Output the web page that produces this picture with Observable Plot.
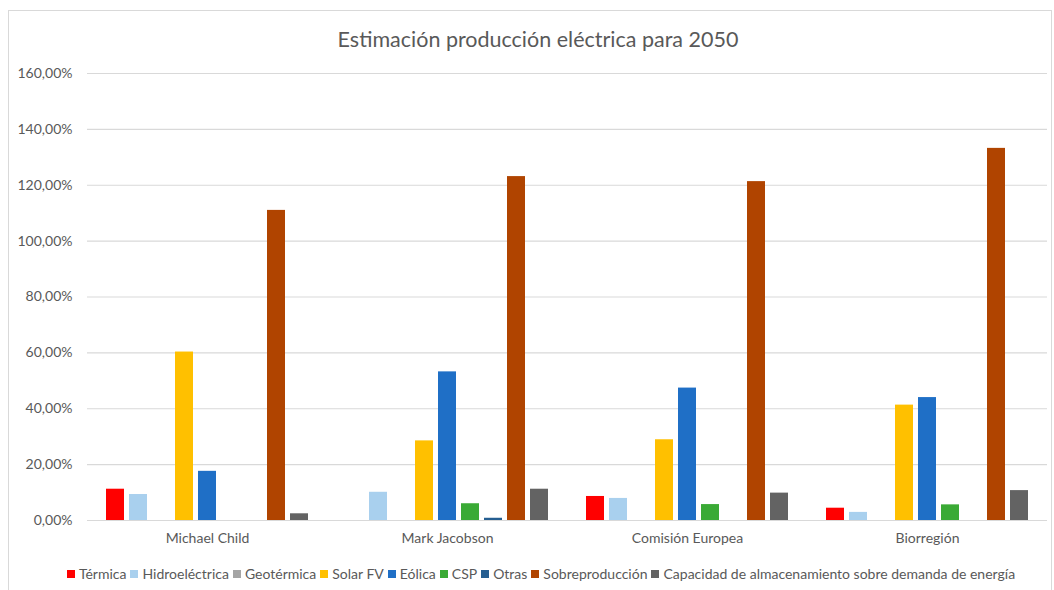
<!DOCTYPE html>
<html>
<head>
<meta charset="utf-8">
<script src="https://cdn.jsdelivr.net/npm/d3@7"></script>
<script src="https://cdn.jsdelivr.net/npm/@observablehq/plot@0.6"></script>
<style>
  html, body { margin: 0; padding: 0; background: #fff; }
  #wrap { position: relative; width: 1054px; height: 590px; overflow: hidden; font-family: Lato, "Open Sans", sans-serif; }
  #frame { position: absolute; left: 8px; top: 10px; width: 1044px; height: 600px; border: 1px solid #d9d9d9; box-sizing: border-box; }
  #title { position: absolute; left: 0; width: 1076px; top: 26px; text-align: center; font-size: 21.5px; color: #595959; }
  #chart { position: absolute; left: 0; top: 60px; }
  #legend { position: absolute; left: 0; width: 1082px; top: 565px; text-align: center; font-size: 14px; color: #595959; white-space: nowrap; }
  #legend span.item { margin: 0 2px; }
  #legend span.sw { display: inline-block; width: 8px; height: 8px; margin-right: 4px; vertical-align: 1px; }
</style>
</head>
<body>
<div id="wrap">
  <div id="frame"></div>
  <div id="title">Estimación producción eléctrica para 2050</div>
  <div id="chart"></div>
  <div id="legend"></div>
</div>
<script>
const groups = ["Michael Child", "Mark Jacobson", "Comisión Europea", "Biorregión"];
const series = ["Térmica", "Hidroeléctrica", "Geotérmica", "Solar FV", "Eólica", "CSP", "Otras", "Sobreproducción", "Capacidad de almacenamiento sobre demanda de energía"];
const colors = ["#ff0000", "#a9d0ee", "#a5a5a5", "#ffc000", "#1f6fc6", "#3aaa35", "#255e91", "#b04400", "#636363"];

const termica        = [11.2, null, 8.6, 4.4];
const hidroelectrica = [9.3, 10.1, 7.9, 2.9];
const geotermica     = [null, null, null, null];
const solarFV        = [60.3, 28.5, 28.9, 41.3];
const eolica         = [17.6, 53.2, 47.4, 44.0];
const csp            = [null, 6.0, 5.7, 5.6];
const otras          = [null, 0.8, null, null];
const sobreproduccion = [111.0, 123.1, 121.3, 133.2];
const capacidad      = [2.4, 11.2, 9.8, 10.7];

const yTicks = [0, 20, 40, 60, 80, 100, 120, 140, 160];

const seriesValues = [termica, hidroelectrica, geotermica, solarFV, eolica, csp, otras, sobreproduccion, capacidad];
const table = [];
groups.forEach((g, gi) => {
  series.forEach((s, si) => {
    const v = seriesValues[si][gi];
    if (v != null) table.push({grupo: g, serie: s, valor: v});
  });
});

const fmt = d => d.toFixed(2).replace(".", ",") + "%";

const chart = Plot.plot({
  width: 1054,
  height: 495,
  marginTop: 13,
  marginBottom: 35,
  marginLeft: 86,
  marginRight: 6,
  style: {fontFamily: "Lato, 'Open Sans', sans-serif", fontSize: "14px", color: "#595959", background: "transparent", overflow: "visible"},
  facet: {data: table, x: "grupo"},
  fx: {domain: groups, padding: 0, label: null, axis: "bottom", tickSize: 0, tickPadding: 13},
  x: {domain: series, axis: null, paddingInner: 0.22, paddingOuter: 0.72},
  y: {domain: [0, 160], ticks: yTicks, tickFormat: fmt, label: null, tickSize: 0, tickPadding: 15},
  color: {domain: series, range: colors},
  marks: [
    Plot.ruleY(yTicks, {stroke: "#d9d9d9", strokeWidth: 1.2}),
    Plot.barY(table, {x: "serie", y: "valor", fill: "serie"})
  ]
});
document.getElementById("chart").appendChild(chart);

const legend = document.getElementById("legend");
series.forEach((s, i) => {
  const item = document.createElement("span");
  item.className = "item";
  const sw = document.createElement("span");
  sw.className = "sw";
  sw.style.background = colors[i];
  item.appendChild(sw);
  item.appendChild(document.createTextNode(s));
  legend.appendChild(item);
});
</script>
</body>
</html>
